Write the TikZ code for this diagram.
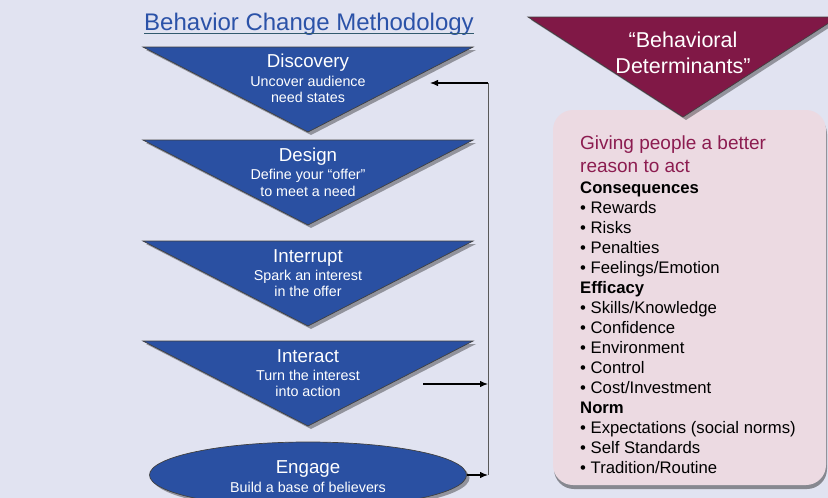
\documentclass[tikz,border=0pt]{standalone}
\usepackage{fontspec}
\setmainfont{Liberation Sans}
\usetikzlibrary{shadows,shapes.geometric,arrows.meta}
\definecolor{bg}{RGB}{225,227,241}
\definecolor{tblue}{RGB}{42,80,162}
\definecolor{maroon}{RGB}{128,24,70}
\definecolor{pinkbox}{RGB}{236,218,226}
\definecolor{mtext}{RGB}{140,28,80}
\definecolor{ttl}{RGB}{43,82,168}
\definecolor{uline}{RGB}{50,90,110}
\tikzset{
  shd/.style={drop shadow={shadow xshift=3pt, shadow yshift=-3pt, opacity=0.35, fill=black}},
  tri/.style={fill=tblue, draw=black!75, line width=0.7pt, shd},
  hd/.style={text=white, font=\fontsize{18.7}{22}\selectfont, anchor=base, inner sep=0pt},
  subtxt/.style={text=white, font=\fontsize{14.3}{17}\selectfont, anchor=base, inner sep=0pt},
  conn/.style={line width=1.2pt, -{Latex[length=8pt,width=6.5pt]}},
  vline/.style={line width=1pt, draw=black!65},
  lst/.style={anchor=base west, inner sep=0pt, font=\fontsize{16.7}{20}\selectfont, text=black},
  bhd/.style={anchor=base west, inner sep=0pt, font=\fontsize{19}{23}\selectfont, text=mtext}
}
\begin{document}
\begin{tikzpicture}[x=1pt,y=-1pt]
\useasboundingbox (0,0) rectangle (828,498);
\clip (0,0) rectangle (828,498);
\fill[bg] (0,0) rectangle (828,498);

% title
\node[anchor=base, font=\fontsize{24}{28}\selectfont, text=ttl, inner sep=0pt] (title) at (309,30) {Behavior Change Methodology};
\draw[uline, line width=1pt] ([yshift=-3pt]title.base west) -- ([yshift=-3pt]title.base east);

% triangles
\foreach \tp in {47,140,241,341}{
  \path[tri] (143,\tp) -- (473,\tp) -- (308,\tp+85) -- cycle;
}
\node[hd] (discH) at (308,67) {Discovery};
\node[subtxt] (discA) at (308,86) {Uncover audience};
\node[subtxt] (discB) at (308,102) {need states};

\node[hd] (desH) at (308,161) {Design};
\node[subtxt] (desA) at (308,179) {Define your “offer”};
\node[subtxt] (desB) at (308,196) {to meet a need};

\node[hd] (intrH) at (308,262) {Interrupt};
\node[subtxt] (intrA) at (308,280) {Spark an interest};
\node[subtxt] (intrB) at (308,296) {in the offer};

\node[hd] (intaH) at (308,362) {Interact};
\node[subtxt] (intaA) at (308,380) {Turn the interest};
\node[subtxt] (intaB) at (308,396) {into action};

% ellipse
\node[ellipse, fill=tblue, draw=black!75, line width=0.7pt, minimum width=317pt, minimum height=66pt, inner sep=0pt, shd] (engage) at (308,475) {};
\node[hd] (engH) at (308,473) {Engage};
\node[subtxt] (engA) at (308,492) {Build a base of believers};

% connectors
\coordinate (jTop) at (488,83);
\coordinate (jMid) at (488,384);
\coordinate (jBot) at (488,475);
\coordinate (discIn) at (430,83);
\coordinate (intaOut) at (423,384);
\draw[vline] (jTop) -- (jBot);
\draw[conn] (jTop) -- (discIn);
\draw[conn] (intaOut) -- (jMid);
\draw[conn] (engage.east) -- (jBot);

% pink box
\path[fill=pinkbox, rounded corners=20pt, drop shadow={shadow xshift=1pt, shadow yshift=-4pt, opacity=0.4, fill=black}] (553,110) rectangle (826,485);

% maroon triangle
\path[fill=maroon, draw=black!75, line width=0.7pt, shd] (528,17) -- (838,17) -- (683,117) -- cycle;
\node[anchor=base, inner sep=0pt, text=white, font=\fontsize{21.5}{26}\selectfont] (bd1) at (683,47) {“Behavioral};
\node[anchor=base, inner sep=0pt, text=white, font=\fontsize{21.5}{26}\selectfont] (bd2) at (683,73) {Determinants”};

% box text
\node[bhd] (g1) at (580,149) {Giving people a better};
\node[bhd] (g2) at (580,172) {reason to act};
\foreach \t [count=\i from 0] in {{\textbf{Consequences}},{• Rewards},{• Risks},{• Penalties},{• Feelings/Emotion},{\textbf{Efficacy}},{• Skills/Knowledge},{• Confidence},{• Environment},{• Control},{• Cost/Investment},{\textbf{Norm}},{• Expectations (social norms)},{• Self Standards},{• Tradition/Routine}}{
  \node[lst] (item\i) at (580,193+20*\i) {\t};
}
\end{tikzpicture}
\end{document}
